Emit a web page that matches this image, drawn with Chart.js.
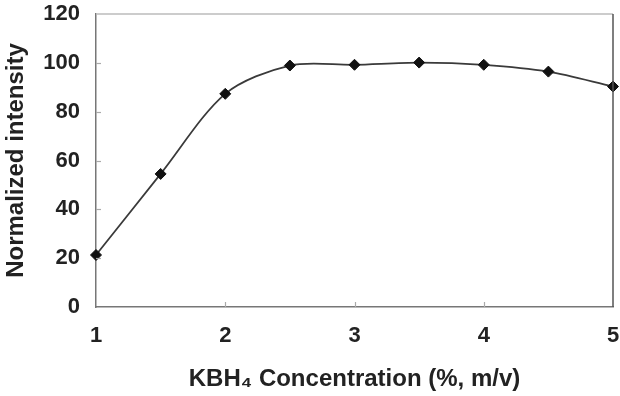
<!DOCTYPE html>
<html>
<head>
<meta charset="utf-8">
<script src="https://cdn.jsdelivr.net/npm/chart.js@4.4.0/dist/chart.umd.min.js"></script>
<style>
html,body{margin:0;padding:0;background:#fff;}
#wrap{width:620px;height:396px;position:relative;}
</style>
</head>
<body>
<div id="wrap"><canvas id="c" width="620" height="396"></canvas></div>
<script>
const concentrations = [1, 1.5, 2, 2.5, 3, 3.5, 4, 4.5, 5];
const intensity = [21.3, 54.5, 87.3, 98.9, 99.2, 100.1, 99.2, 96.4, 90.3];
const xTicks = [1, 2, 3, 4, 5];
const yTicks = [0, 20, 40, 60, 80, 100, 120];
const xTitle = 'KBH\u2084 Concentration (%, m/v)';
const yTitle = 'Normalized intensity';

const frame = {
  id: 'frame',
  afterDraw(chart) {
    const ctx = chart.ctx, a = chart.chartArea;
    const xs = chart.scales.x, ys = chart.scales.y;
    ctx.save();
    ctx.strokeStyle = '#aaa'; ctx.lineWidth = 1.2;
    yTicks.slice(1, -1).forEach(v => {
      const y = Math.round(ys.getPixelForValue(v)) + 0.5;
      ctx.beginPath(); ctx.moveTo(a.left, y); ctx.lineTo(a.left + 5, y); ctx.stroke();
    });
    xTicks.slice(1, -1).forEach(v => {
      const x = Math.round(xs.getPixelForValue(v)) + 0.5;
      ctx.beginPath(); ctx.moveTo(x, a.bottom); ctx.lineTo(x, a.bottom - 5); ctx.stroke();
    });
    ctx.strokeStyle = '#bbb'; ctx.lineWidth = 1.5;
    ctx.beginPath(); ctx.moveTo(a.left, a.top); ctx.lineTo(a.right, a.top); ctx.stroke();
    ctx.strokeStyle = '#555'; ctx.lineWidth = 1.5;
    ctx.beginPath(); ctx.moveTo(a.right, a.top); ctx.lineTo(a.right, a.bottom); ctx.stroke();
    ctx.restore();
  }
};

new Chart(document.getElementById('c'), {
  type: 'line',
  data: {
    datasets: [{
      data: concentrations.map((x, i) => ({x: x, y: intensity[i]})),
      borderColor: '#3a3a3a',
      borderWidth: 1.8,
      tension: 0.3,
      pointStyle: 'rectRot',
      pointRadius: 5.5,
      pointBackgroundColor: '#111',
      pointBorderColor: '#111',
      pointBorderWidth: 1,
      clip: false
    }]
  },
  options: {
    responsive: false,
    animation: false,
    layout: {padding: {left: 0, right: 7, top: 14, bottom: 0}},
    plugins: {legend: {display: false}, tooltip: {enabled: false}},
    scales: {
      x: {
        type: 'linear', min: 1, max: 5,
        afterBuildTicks: s => { s.ticks = xTicks.map(v => ({value: v})); },
        afterFit: s => { s.height = 89; s.paddingLeft = 0; s.paddingRight = 0; },
        grid: {display: true, drawOnChartArea: false, drawTicks: false, color: 'rgba(0,0,0,0)'},
        border: {display: true, color: '#777', width: 1.5},
        ticks: {padding: 16, color: '#222', font: {family: 'Liberation Sans', size: 22, weight: 'bold'}, maxRotation: 0},
        title: {display: true, text: xTitle, color: '#222', padding: {top: 0, bottom: 2},
          font: {family: 'Liberation Sans', size: 24, weight: 'bold'}}
      },
      y: {
        min: 0, max: 120,
        afterBuildTicks: s => { s.ticks = yTicks.map(v => ({value: v})); },
        afterFit: s => { s.width = 96; s.paddingTop = 0; s.paddingBottom = 0; },
        grid: {display: true, drawOnChartArea: false, drawTicks: false, color: 'rgba(0,0,0,0)'},
        border: {display: true, color: '#777', width: 1.5},
        ticks: {padding: 16, color: '#222', font: {family: 'Liberation Sans', size: 22, weight: 'bold'}},
        title: {display: true, text: yTitle, color: '#222', padding: {top: 2, bottom: 0},
          font: {family: 'Liberation Sans', size: 24, weight: 'bold'}}
      }
    }
  },
  plugins: [frame]
});
</script>
</body>
</html>
